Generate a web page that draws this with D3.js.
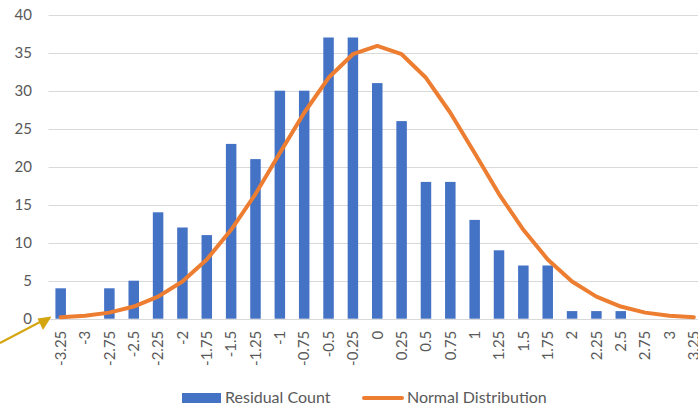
<!DOCTYPE html>
<html>
<head>
<meta charset="utf-8">
<script src="https://cdn.jsdelivr.net/npm/d3@7"></script>
<style>
  html, body { margin: 0; padding: 0; background: #fff; }
  svg { display: block; }
  text { font-family: Lato, "Open Sans", sans-serif; fill: #595959; }
</style>
</head>
<body>
<svg id="chart" width="698" height="405"></svg>
<script>
const categories = ["-3.25","-3","-2.75","-2.5","-2.25","-2","-1.75","-1.5","-1.25","-1","-0.75","-0.5","-0.25","0","0.25","0.5","0.75","1","1.25","1.5","1.75","2","2.25","2.5","2.75","3","3.25"];
const residualCount = [4,0,4,5,14,12,11,23,21,30,30,37,37,31,26,18,18,13,9,7,7,1,1,1,0,0,0];
const normalDistribution = [0.2,0.4,0.8,1.6,2.9,4.9,7.8,11.7,16.4,21.8,27.1,31.7,34.8,35.9,34.8,31.7,27.1,21.8,16.4,11.7,7.8,4.9,2.9,1.6,0.8,0.4,0.2];
const yTicks = [0,5,10,15,20,25,30,35,40];
const seriesNames = ["Residual Count","Normal Distribution"];

const svg = d3.select("#chart");
const plotLeft = 48.5, plotRight = 706, yTop = 14.7, yBottom = 318.7;

const x = d3.scaleBand().domain(categories).range([plotLeft, plotRight]).padding(0);
const y = d3.scaleLinear().domain([0, 40]).range([yBottom, yTop]);

// gridlines
svg.append("g").selectAll("line").data(yTicks).join("line")
  .attr("x1", plotLeft).attr("x2", 698)
  .attr("y1", d => Math.round(y(d)) + 0.5).attr("y2", d => Math.round(y(d)) + 0.5)
  .attr("stroke", "#d9d9d9").attr("stroke-width", 1);

// y axis labels
const yAxis = d3.axisLeft(y).tickValues(yTicks).tickSize(0).tickPadding(0);
const yg = svg.append("g").attr("transform", `translate(32,0)`).call(yAxis);
yg.select(".domain").remove();
yg.selectAll("text").attr("font-size", 15).attr("fill", "#595959")
  .attr("font-family", "Lato, 'Open Sans', sans-serif").attr("dy", "0.33em");

// bars
const barW = 10.5;
svg.append("g").selectAll("rect").data(residualCount).join("rect")
  .attr("x", (d, i) => x(categories[i]) + x.bandwidth() / 2 - barW / 2)
  .attr("width", barW)
  .attr("y", d => y(d))
  .attr("height", d => y(0) - y(d))
  .attr("fill", "#4472c4");

// x axis labels (rotated)
const xAxis = d3.axisBottom(x).tickSize(0).tickPadding(0);
const xg = svg.append("g").attr("transform", `translate(0,${yBottom})`).call(xAxis);
xg.select(".domain").remove();
xg.selectAll("text")
  .attr("font-size", 15).attr("fill", "#595959")
  .attr("font-family", "Lato, 'Open Sans', sans-serif")
  .attr("text-anchor", "end")
  .attr("transform", "translate(0,12) rotate(-90)")
  .attr("x", 0).attr("y", 0).attr("dy", "0.35em");

// normal distribution line
const line = d3.line()
  .x((d, i) => x(categories[i]) + x.bandwidth() / 2)
  .y(d => y(d));
svg.append("path").datum(normalDistribution)
  .attr("d", line)
  .attr("fill", "none")
  .attr("stroke", "#ed7d31")
  .attr("stroke-width", 4)
  .attr("stroke-linejoin", "round")
  .attr("stroke-linecap", "round");

// arrow annotation
svg.append("path")
  .attr("d", "M0,343 L40,322")
  .attr("stroke", "#d4a50f").attr("stroke-width", 2).attr("fill", "none");
svg.append("path")
  .attr("d", "M51.5,316.5 L37.5,318.5 L43,330 Z")
  .attr("fill", "#d4a50f");

// legend
const lg = svg.append("g");
lg.append("rect").attr("x", 182).attr("y", 393).attr("width", 39).attr("height", 10).attr("fill", "#4472c4");
lg.append("text").attr("x", 225).attr("y", 397.5).attr("dy", "0.35em")
  .attr("font-size", 16).text(seriesNames[0]);
lg.append("line").attr("x1", 364).attr("x2", 402).attr("y1", 398).attr("y2", 398)
  .attr("stroke", "#ed7d31").attr("stroke-width", 4).attr("stroke-linecap", "round");
lg.append("text").attr("x", 407).attr("y", 397.5).attr("dy", "0.35em")
  .attr("font-size", 16).text(seriesNames[1]);
</script>
</body>
</html>
